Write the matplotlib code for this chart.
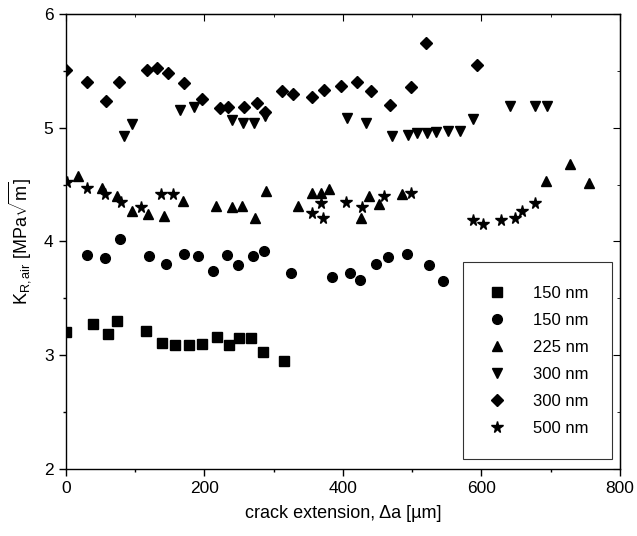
import numpy as np
import matplotlib
matplotlib.use("Agg")
import matplotlib.pyplot as plt
from matplotlib.ticker import MultipleLocator

plt.rcParams['font.family'] = ['Liberation Sans', 'DejaVu Sans']
plt.rcParams['mathtext.fontset'] = 'custom'
plt.rcParams['mathtext.rm'] = 'Liberation Sans'
plt.rcParams['mathtext.it'] = 'Liberation Sans:italic'

# 150 nm (squares)
sq_x = [0, 38.6, 61, 73, 115.5, 139, 158, 178, 197, 218.5, 236, 250, 267.5, 284, 315]
sq_y = [3.20, 3.27, 3.185, 3.30, 3.21, 3.11, 3.09, 3.09, 3.10, 3.16, 3.09, 3.15, 3.15, 3.03, 2.95]

# 150 nm (circles)
ci_x = [30.8, 56.3, 78, 120, 144, 170, 190.6, 213, 232.5, 249, 269.5, 285.5, 324.5,
        383.6, 410, 425, 448, 465, 493, 524, 544]
ci_y = [3.88, 3.85, 4.02, 3.87, 3.80, 3.89, 3.87, 3.74, 3.88, 3.79, 3.87, 3.92, 3.72,
        3.69, 3.72, 3.66, 3.80, 3.86, 3.89, 3.79, 3.65]

# 225 nm (up triangles)
tu_x = [17.8, 51.5, 73, 95, 119, 142, 169.4, 216.6, 240, 253.7, 273, 288.8, 335, 354.8,
        367.7, 380, 425.5, 438, 452, 485, 693, 728, 755]
tu_y = [4.58, 4.47, 4.40, 4.27, 4.24, 4.22, 4.36, 4.31, 4.30, 4.31, 4.21, 4.44, 4.31, 4.43,
        4.43, 4.46, 4.21, 4.40, 4.33, 4.42, 4.53, 4.68, 4.515]

# 300 nm (down triangles)
td_x = [84.2, 94.8, 164.6, 184.8, 239.2, 255, 272, 287.4, 405.3, 433.2, 471.2, 493.4,
        507.3, 521.8, 534.4, 551.2, 569, 588.2, 641, 677.7, 695]
td_y = [4.93, 5.03, 5.16, 5.18, 5.07, 5.04, 5.04, 5.10, 5.09, 5.04, 4.93, 4.94,
        4.95, 4.95, 4.96, 4.97, 4.97, 5.08, 5.19, 5.19, 5.19]

# 300 nm (diamonds)
di_x = [0, 30.8, 57.3, 77, 116.5, 131, 147.8, 170.9, 196, 222.4, 233.5, 257, 275.4, 287.4,
        311.5, 327.4, 355.7, 373, 397, 419.8, 440, 467.9, 498.2, 519.4, 594]
di_y = [5.51, 5.40, 5.24, 5.40, 5.51, 5.53, 5.48, 5.39, 5.25, 5.17, 5.18, 5.18, 5.22, 5.14,
        5.32, 5.30, 5.27, 5.33, 5.37, 5.40, 5.32, 5.20, 5.36, 5.745, 5.554]

# 500 nm (stars)
st_x = [1, 30.8, 56.3, 79, 109, 137, 155, 355.7, 367.7, 371.5, 404.3, 427.9, 459.6, 498.2,
        588.2, 602.6, 628, 648.4, 658.5, 677.7]
st_y = [4.52, 4.47, 4.42, 4.35, 4.30, 4.42, 4.415, 4.25, 4.34, 4.21, 4.35, 4.30, 4.40, 4.43,
        4.19, 4.157, 4.186, 4.21, 4.27, 4.334]

fig = plt.figure(figsize=(6.37, 5.36), dpi=100)
ax = fig.add_axes([0.1036, 0.1256, 0.8697, 0.848])

kw = dict(color='black', linestyle='none', clip_on=True)
ax.plot(sq_x, sq_y, marker='s', ms=6.5, label='150 nm', **kw)
ax.plot(ci_x, ci_y, marker='o', ms=7, label='150 nm', **kw)
ax.plot(tu_x, tu_y, marker='^', ms=7.5, label='225 nm', **kw)
ax.plot(td_x, td_y, marker='v', ms=7.5, label='300 nm', **kw)
ax.plot(di_x, di_y, marker='D', ms=6.5, label='300 nm', **kw)
ax.plot(st_x, st_y, marker='*', ms=8.5, label='500 nm', **kw)

ax.set_xlim(0, 800)
ax.set_ylim(2, 6)
ax.xaxis.set_major_locator(MultipleLocator(200))
ax.xaxis.set_minor_locator(MultipleLocator(100))
ax.yaxis.set_major_locator(MultipleLocator(1))
ax.yaxis.set_minor_locator(MultipleLocator(0.5))

ax.tick_params(which='both', direction='out', top=False, right=False,
               labelsize=12.5, width=1, pad=4)
ax.tick_params(which='major', length=5)
ax.tick_params(which='minor', length=2.5)
for sp in ax.spines.values():
    sp.set_linewidth(1)

# inward ticks on top and right
axt = ax.secondary_xaxis('top')
axt.xaxis.set_major_locator(MultipleLocator(200))
axt.xaxis.set_minor_locator(MultipleLocator(100))
axt.tick_params(which='both', direction='in', labeltop=False)
axt.tick_params(which='major', length=5)
axt.tick_params(which='minor', length=2.5)
axr = ax.secondary_yaxis('right')
axr.yaxis.set_major_locator(MultipleLocator(1))
axr.yaxis.set_minor_locator(MultipleLocator(0.5))
axr.tick_params(which='both', direction='in', labelright=False)
axr.tick_params(which='major', length=5)
axr.tick_params(which='minor', length=2.5)

ax.set_xlabel('crack extension, \u0394a [\u00b5m]', fontsize=13, labelpad=6)
ax.set_ylabel(r'K$_{\mathregular{R,air}}$ [MPa$\sqrt{\mathregular{m}}$]', fontsize=13, labelpad=8)

leg = ax.legend(loc='lower right', bbox_to_anchor=(0.9856, 0.021), borderaxespad=0,
                frameon=True, fancybox=False, edgecolor='black', fontsize=12,
                numpoints=1, handlelength=1.3, handletextpad=1.5, labelspacing=0.72,
                borderpad=1.4)
leg.get_frame().set_linewidth(0.8)
leg.get_frame().set_boxstyle('square', pad=0)

fig.savefig('out.png', dpi=100)
